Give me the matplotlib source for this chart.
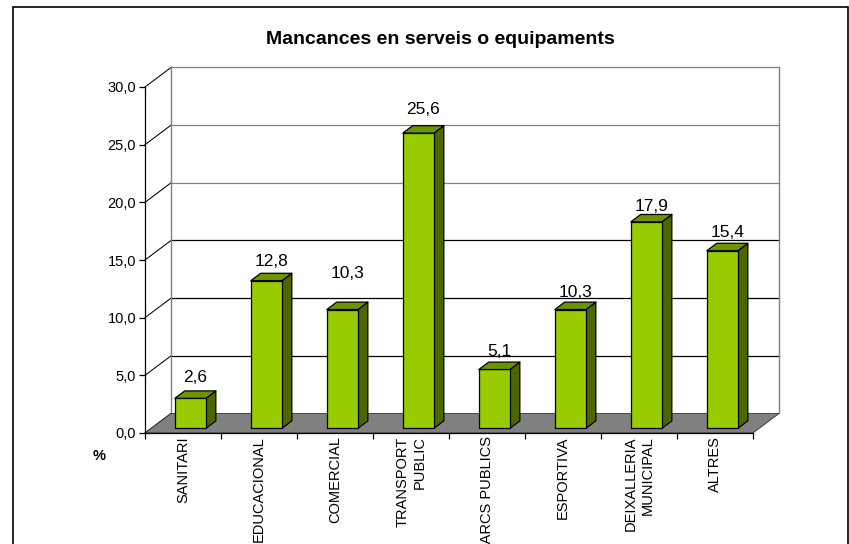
import matplotlib
matplotlib.use('Agg')
from matplotlib import pyplot as plt
from matplotlib.patches import Polygon, Rectangle
from matplotlib.ticker import FuncFormatter

plt.rcParams['font.family'] = ['Liberation Sans', 'DejaVu Sans']

# %% data
categories = ['SANITARI', 'EDUCACIONAL', 'COMERCIAL', 'TRANSPORT\nPUBLIC',
              'PARCS PUBLICS', 'ESPORTIVA', 'DEIXALLERIA\nMUNICIPAL', 'ALTRES']
values = [2.6, 12.8, 10.3, 25.6, 5.1, 10.3, 17.9, 15.4]
value_labels = ['2,6', '12,8', '10,3', '25,6', '5,1', '10,3', '17,9', '15,4']
y_ticks = [0, 5, 10, 15, 20, 25, 30]

# %% styles
FRONT = '#99CC00'
SIDE = '#4D6600'
TOP = '#6B9400'
FLOOR = '#808080'
GRID = '#808080'
# pseudo 3d depth of the floor, in data units (categories / %)
DX = 26 / 76
DY = 19.5 / 11.53
D0, D1 = 0.24, 0.62          # bar depth, fraction of the floor depth
BL, BR = 0.31, 0.72          # bar edges inside a category
LABEL_PX = [9, 7.5, 24, 11.5, 6, 5.5, 3.5, 6.5]   # label lift above the bar, px

n = len(categories)
fig = plt.figure(figsize=(8.49, 5.44), dpi=100)
ax = fig.add_axes([145 / 849, (544 - 433) / 544, 608 / 849, 346 / 544])
ax.set_xlim(0, n)
ax.set_ylim(0, y_ticks[-1])

# walls
for v in y_ticks:
    ax.plot([0, DX], [v, v + DY], color='black', lw=0.75,
            clip_on=False, zorder=1)
    if v > 0:
        ax.plot([DX, n + DX], [v + DY, v + DY],
                color=GRID if v >= 20 else 'black', lw=0.9,
                clip_on=False, zorder=1)
for xw in (DX, n + DX):
    ax.plot([xw, xw], [DY, y_ticks[-1] + DY], color=GRID, lw=1.0,
            clip_on=False, zorder=1)

# floor
ax.add_patch(Polygon([(0, 0), (n, 0), (n + DX, DY), (DX, DY)],
                     closed=True, fc=FLOOR, ec='#303030', lw=0.6,
                     clip_on=False, zorder=2))

# bars
for i, (v, lab, off) in enumerate(zip(values, value_labels, LABEL_PX)):
    x0 = i + BL + D0 * DX
    x1 = i + BR + D0 * DX
    y0 = D0 * DY
    ddx = (D1 - D0) * DX
    ddy = (D1 - D0) * DY
    front = [(x0, y0), (x1, y0), (x1, y0 + v), (x0, y0 + v)]
    side = [(x1, y0), (x1 + ddx, y0 + ddy), (x1 + ddx, y0 + v + ddy),
            (x1, y0 + v)]
    top = [(x0, y0 + v), (x1, y0 + v), (x1 + ddx, y0 + v + ddy),
           (x0 + ddx, y0 + v + ddy)]
    for pts, col in ((side, SIDE), (front, FRONT), (top, TOP)):
        ax.add_patch(Polygon(pts, closed=True, fc=col, ec='black',
                             lw=0.9, clip_on=False, zorder=3,
                             joinstyle='round'))
    cx = (x0 + x1 + ddx) / 2
    ax.annotate(lab, xy=(cx, y0 + v + ddy), xytext=(0, off * 0.72),
                textcoords='offset points', ha='center', va='baseline',
                fontsize=12.5, zorder=4)

# axes
for s in ('top', 'right'):
    ax.spines[s].set_visible(False)
for s in ('left', 'bottom'):
    ax.spines[s].set_color('black')
    ax.spines[s].set_linewidth(0.9)
    ax.spines[s].set_zorder(5)
ax.patch.set_visible(False)

ax.set_yticks(y_ticks)
ax.yaxis.set_major_formatter(
    FuncFormatter(lambda v, p: f'{v:.1f}'.replace('.', ',')))
ax.tick_params(axis='y', direction='out', length=4.3, width=0.9, pad=2,
               labelsize=10.5)

ax.set_xticks(range(n + 1))
ax.set_xticklabels([])
ax.tick_params(axis='x', which='major', direction='out', length=4.3,
               width=0.9)
ax.set_xticks([i + 0.5 for i in range(n)], minor=True)
ax.set_xticklabels(categories, minor=True)
ax.tick_params(axis='x', which='minor', length=0, pad=2.5, labelsize=10.5)
for t in ax.get_xticklabels(minor=True):
    t.set_rotation(90)
    t.set_multialignment('right')
    t.set_linespacing(1.25)

ax.text(-0.076, -0.066, '%', transform=ax.transAxes, ha='center',
        va='center', fontsize=10.5, fontweight='bold')

fig.text(440.5 / 849, 1 - 40 / 544, 'Mancances en serveis o equipaments',
         ha='center', va='center', fontsize=14, fontweight='bold')

# frame round the chart
fig.patches.append(Rectangle((12.5 / 849, -0.02), (847.5 - 12.5) / 849,
                             1 - 6.5 / 544 + 0.02, transform=fig.transFigure,
                             fill=False, ec='black', lw=1.2))

fig.savefig('out.png', dpi=100)
